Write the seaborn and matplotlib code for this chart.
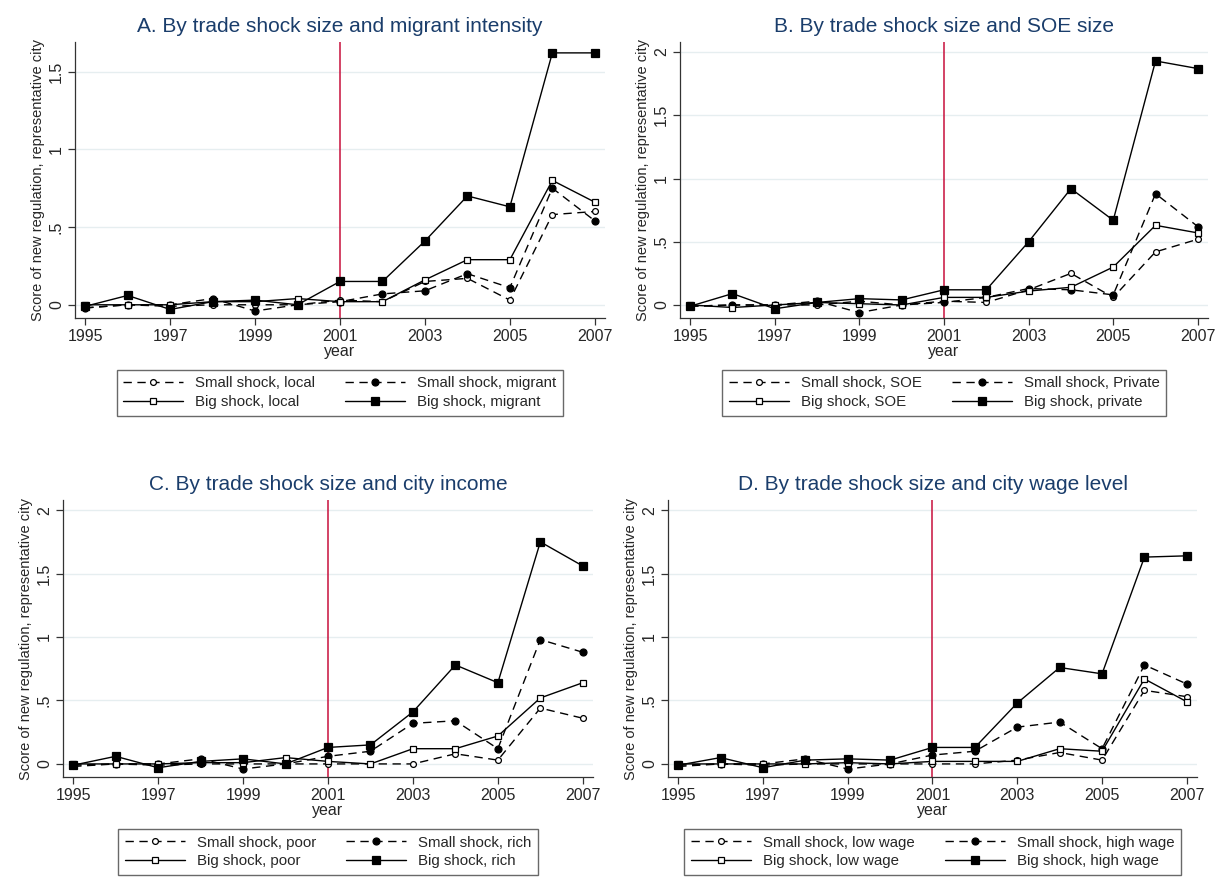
import matplotlib
matplotlib.use("Agg")
import matplotlib.pyplot as plt
import seaborn as sns
import pandas as pd

years = list(range(1995, 2008))
xticks = [1995, 1997, 1999, 2001, 2003, 2005, 2007]

# A. migrant intensity
a_small_local   = [-0.02, 0.00, -0.01, 0.00, 0.00, 0.00, 0.03, 0.02, 0.15, 0.17, 0.03, 0.58, 0.60]
a_small_migrant = [-0.02, 0.00, 0.00, 0.04, -0.04, 0.00, 0.02, 0.07, 0.09, 0.20, 0.11, 0.75, 0.54]
a_big_local     = [0.00, 0.00, 0.00, 0.02, 0.02, 0.04, 0.02, 0.02, 0.16, 0.29, 0.29, 0.80, 0.66]
a_big_migrant   = [-0.01, 0.06, -0.03, 0.02, 0.03, 0.00, 0.15, 0.15, 0.41, 0.70, 0.63, 1.62, 1.62]

# B. SOE size
b_small_soe     = [-0.01, 0.00, 0.00, 0.00, 0.03, 0.00, 0.03, 0.02, 0.12, 0.25, 0.06, 0.42, 0.52]
b_small_private = [-0.01, 0.00, 0.00, 0.03, -0.06, 0.00, 0.02, 0.06, 0.13, 0.12, 0.08, 0.88, 0.62]
b_big_soe       = [0.00, -0.02, 0.00, 0.02, 0.01, 0.00, 0.06, 0.06, 0.11, 0.14, 0.30, 0.63, 0.57]
b_big_private   = [-0.01, 0.09, -0.03, 0.02, 0.05, 0.04, 0.12, 0.12, 0.50, 0.92, 0.67, 1.93, 1.87]

# C. city income
c_small_poor    = [-0.02, 0.00, -0.01, 0.00, 0.00, 0.00, 0.00, 0.00, 0.00, 0.08, 0.03, 0.44, 0.36]
c_small_rich    = [-0.01, 0.00, 0.00, 0.04, -0.04, 0.00, 0.06, 0.10, 0.32, 0.34, 0.12, 0.98, 0.88]
c_big_poor      = [0.00, 0.00, 0.00, 0.01, 0.01, 0.05, 0.02, 0.00, 0.12, 0.12, 0.22, 0.52, 0.64]
c_big_rich      = [-0.01, 0.06, -0.03, 0.02, 0.04, 0.00, 0.13, 0.15, 0.41, 0.78, 0.64, 1.75, 1.56]

# D. city wage level
d_small_low     = [-0.02, 0.00, -0.01, 0.00, 0.00, 0.00, 0.00, 0.00, 0.03, 0.09, 0.03, 0.58, 0.53]
d_small_high    = [-0.01, 0.00, 0.00, 0.04, -0.04, 0.00, 0.07, 0.10, 0.29, 0.33, 0.12, 0.78, 0.63]
d_big_low       = [0.00, 0.00, 0.00, 0.00, 0.01, 0.00, 0.02, 0.02, 0.02, 0.12, 0.10, 0.67, 0.49]
d_big_high      = [-0.01, 0.05, -0.03, 0.03, 0.04, 0.03, 0.13, 0.13, 0.48, 0.76, 0.71, 1.63, 1.64]

yticks_a = [0, 0.5, 1, 1.5]
ylabels_a = ["0", ".5", "1", "1.5"]
yticks_b = [0, 0.5, 1, 1.5, 2]
ylabels_b = ["0", ".5", "1", "1.5", "2"]

panels = [
    ("A. By trade shock size and migrant intensity",
     ["Small shock, local", "Small shock, migrant", "Big shock, local", "Big shock, migrant"],
     [a_small_local, a_small_migrant, a_big_local, a_big_migrant],
     [75, 318, 605, 42], (-0.085, 1.69), yticks_a, ylabels_a),
    ("B. By trade shock size and SOE size",
     ["Small shock, SOE", "Small shock, Private", "Big shock, SOE", "Big shock, private"],
     [b_small_soe, b_small_private, b_big_soe, b_big_private],
     [680, 318, 1208, 42], (-0.103, 2.08), yticks_b, ylabels_b),
    ("C. By trade shock size and city income",
     ["Small shock, poor", "Small shock, rich", "Big shock, poor", "Big shock, rich"],
     [c_small_poor, c_small_rich, c_big_poor, c_big_rich],
     [63, 777, 593, 500], (-0.103, 2.08), yticks_b, ylabels_b),
    ("D. By trade shock size and city wage level",
     ["Small shock, low wage", "Small shock, high wage", "Big shock, low wage", "Big shock, high wage"],
     [d_small_low, d_small_high, d_big_low, d_big_high],
     [668, 777, 1197, 500], (-0.103, 2.08), yticks_b, ylabels_b),
]

# small-open, small-filled, big-open, big-filled
styles = [
    dict(linestyle=(0, (6, 4)), marker="o", ms=4.2, mfc="white"),
    dict(linestyle=(0, (6, 4)), marker="o", ms=5, mfc="black"),
    dict(linestyle="-", marker="s", ms=5, mfc="white"),
    dict(linestyle="-", marker="s", ms=6, mfc="black"),
]

sns.set_theme(style="white")
plt.rcParams["font.family"] = ["Liberation Sans", "DejaVu Sans"]

W, H = 1221, 894
fig = plt.figure(figsize=(W / 100, H / 100), dpi=100)

for title, labels, series, box, ylim, yt, ytl in panels:
    x0, y0, x1, y1 = box
    ax = fig.add_axes([x0 / W, 1 - y0 / H, (x1 - x0) / W, (y0 - y1) / H])
    for yv in yt:
        ax.axhline(yv, color="#e6eef0", lw=1, zorder=0)
    ax.axvline(2001, color="#c8103c", lw=1.1, zorder=1)
    handles = []
    for lab, vals, st in zip(labels, series, styles):
        df = pd.DataFrame({"year": years, "score": vals})
        sns.lineplot(data=df, x="year", y="score", ax=ax, color="black", lw=1,
                     linestyle=st["linestyle"], marker=st["marker"], ms=st["ms"],
                     mfc=st["mfc"], mec="black", mew=0.9, label=lab, legend=False, zorder=3)
        handles.append(ax.get_lines()[-1])
    ax.set_xlim(1994.76, 2007.24)
    ax.set_ylim(*ylim)
    ax.set_xticks(xticks)
    ax.set_yticks(yt)
    ax.set_yticklabels(ytl, rotation=90, va="center")
    ax.tick_params(axis="both", labelsize=11.5, length=5, width=0.9, color="#333333",
                   direction="out", bottom=True, left=True, pad=3)
    for s in ["top", "right"]:
        ax.spines[s].set_visible(False)
    for s in ["left", "bottom"]:
        ax.spines[s].set_color("#333333")
        ax.spines[s].set_linewidth(0.9)
    ax.set_xlabel("year", fontsize=11.5, labelpad=0)
    ax.set_ylabel("Score of new regulation, representative city", fontsize=10.5, labelpad=3)
    ax.set_title(title, fontsize=15, color="#1a3d6b", pad=7)
    order = [0, 2, 1, 3]
    leg = ax.legend([handles[i] for i in order], [labels[i] for i in order],
                    ncol=2, loc="upper center", bbox_to_anchor=(0.5, -0.16),
                    frameon=True, fancybox=False, edgecolor="#444444", fontsize=10.8,
                    handlelength=4.0, columnspacing=2.0, handletextpad=0.8,
                    borderpad=0.45, labelspacing=0.3, numpoints=1)
    leg.get_frame().set_linewidth(1)

fig.savefig("out.png", dpi=100, facecolor="white")
